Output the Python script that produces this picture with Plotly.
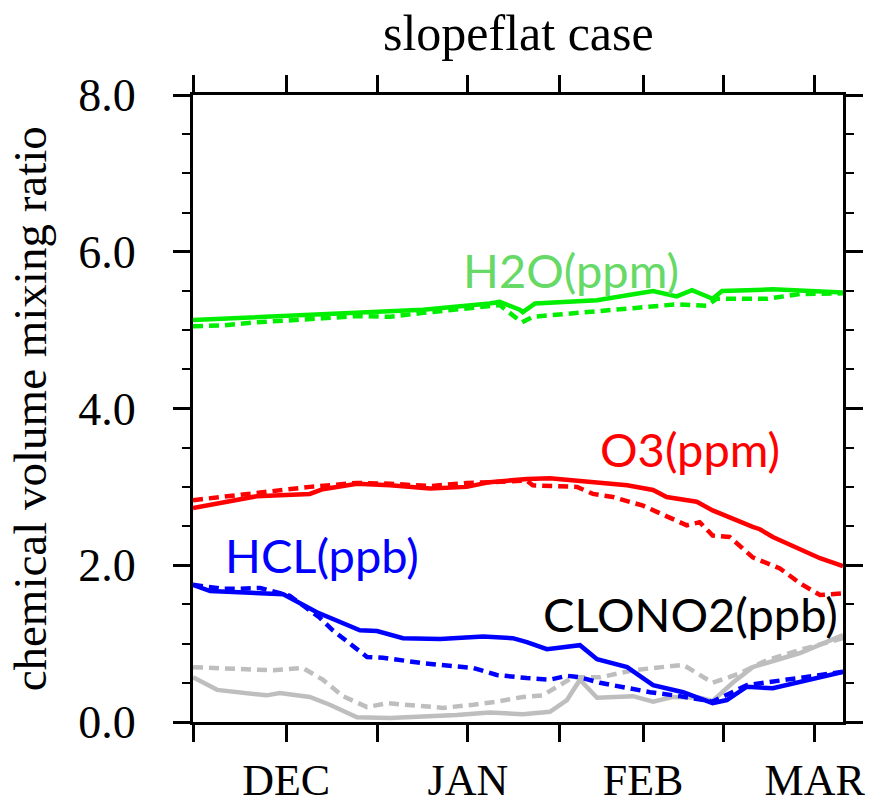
import plotly.graph_objects as go

# ---- data (x in days since mid-November) ----
x_range = [0, 110.2]
tick_vals = [0, 15.8, 31.2, 46.6, 62.2, 76.3, 90.0, 105.4]
tick_text = ["", "DEC", "", "JAN", "", "FEB", "", "MAR"]

h2o_sol_x = [0, 16.4, 27.8, 39.0, 50.3, 52.0, 55.4, 55.9, 58.0, 68.5, 78.0, 82.0, 84.6, 88.1, 89.7, 98.3, 110.2]
h2o_sol_y = [5.13, 5.18, 5.22, 5.26, 5.34, 5.36, 5.26, 5.23, 5.34, 5.38, 5.50, 5.43, 5.51, 5.40, 5.50, 5.52, 5.48]
h2o_dsh_x = [0, 5, 10.8, 16.4, 22, 27.8, 33.4, 39.0, 44.7, 50.3, 52.0, 55.4, 55.8, 57.6, 66.1, 74.6, 82.0, 87.1, 88.8, 97.3, 102.9, 110.2]
h2o_dsh_y = [5.05, 5.06, 5.10, 5.12, 5.15, 5.18, 5.17, 5.22, 5.26, 5.30, 5.32, 5.12, 5.10, 5.17, 5.22, 5.28, 5.33, 5.31, 5.40, 5.40, 5.46, 5.47]

o3_sol_x = [0, 10.8, 19.8, 22.0, 27.8, 33.4, 40.2, 46.4, 50.3, 56.6, 60.5, 73.6, 78.0, 80.3, 85.4, 88.1, 94.9, 96.1, 98.3, 106.3, 110.2]
o3_sol_y = [2.73, 2.88, 2.91, 2.97, 3.04, 3.02, 2.98, 3.00, 3.06, 3.10, 3.11, 3.02, 2.96, 2.87, 2.81, 2.70, 2.49, 2.46, 2.36, 2.09, 1.99]
o3_dsh_x = [0, 10.8, 19.8, 27.8, 33.4, 40.2, 46.4, 50.3, 56.6, 57.6, 65.1, 67.8, 71.2, 76.3, 83.7, 85.9, 88.1, 91.0, 94.9, 99.5, 102.9, 106.3, 110.2]
o3_dsh_y = [2.83, 2.93, 3.00, 3.05, 3.04, 3.01, 3.05, 3.06, 3.08, 3.02, 3.00, 2.91, 2.87, 2.76, 2.51, 2.55, 2.38, 2.36, 2.10, 1.96, 1.77, 1.62, 1.64]

hcl_sol_x = [0, 2.9, 15.3, 21.0, 28.3, 31.2, 35.6, 41.9, 49.2, 54.2, 56.6, 60.0, 65.6, 68.5, 73.6, 78.0, 83.1, 88.1, 90.5, 93.9, 98.3, 110.2]
hcl_sol_y = [1.75, 1.67, 1.63, 1.40, 1.17, 1.16, 1.07, 1.06, 1.09, 1.07, 1.02, 0.93, 0.98, 0.80, 0.70, 0.47, 0.38, 0.24, 0.28, 0.45, 0.43, 0.64]
hcl_dsh_x = [0, 5, 8, 11.4, 16.4, 21.5, 23.7, 27.1, 29.5, 32.2, 39.0, 47.5, 51.5, 56.6, 60.5, 63.4, 65.6, 69.0, 72.4, 77.5, 82.5, 88.1, 93.9, 110.2]
hcl_dsh_y = [1.75, 1.70, 1.70, 1.71, 1.61, 1.33, 1.17, 0.98, 0.83, 0.82, 0.75, 0.69, 0.60, 0.56, 0.54, 0.59, 0.57, 0.50, 0.45, 0.38, 0.33, 0.26, 0.47, 0.64]

clono2_sol_x = [0, 4.1, 12.5, 14.7, 19.8, 23.2, 27.8, 33.4, 44.7, 50.3, 55.9, 60.5, 63.4, 65.6, 68.5, 74.6, 78.0, 81.4, 85.9, 88.1, 91.5, 94.9, 102.9, 110.2]
clono2_sol_y = [0.57, 0.41, 0.34, 0.37, 0.32, 0.22, 0.06, 0.05, 0.09, 0.12, 0.10, 0.13, 0.28, 0.54, 0.31, 0.33, 0.26, 0.32, 0.31, 0.27, 0.50, 0.70, 0.88, 1.11]
clono2_dsh_x = [0, 5.1, 13.6, 18.6, 22.0, 25.4, 29.5, 32.9, 36.3, 42.4, 47.5, 51.5, 55.9, 59.3, 64.4, 69.0, 74.6, 79.2, 83.1, 88.1, 92.7, 97.3, 102.9, 110.2]
clono2_dsh_y = [0.70, 0.68, 0.66, 0.69, 0.54, 0.33, 0.19, 0.24, 0.22, 0.18, 0.22, 0.26, 0.32, 0.34, 0.57, 0.57, 0.66, 0.70, 0.73, 0.50, 0.62, 0.79, 0.92, 1.07]

series = [
    (h2o_sol_x, h2o_sol_y, "#00ee00", "solid"),
    (h2o_dsh_x, h2o_dsh_y, "#00ee00", "10px,6px"),
    (o3_sol_x, o3_sol_y, "#ff0000", "solid"),
    (o3_dsh_x, o3_dsh_y, "#ff0000", "10px,6px"),
    (clono2_sol_x, clono2_sol_y, "#bebebe", "solid"),
    (clono2_dsh_x, clono2_dsh_y, "#bebebe", "10px,6px"),
    (hcl_sol_x, hcl_sol_y, "#0000ff", "solid"),
    (hcl_dsh_x, hcl_dsh_y, "#0000ff", "10px,6px"),
]

labels = [
    ("H2O(ppm)", 64.1, 5.77, "#66d966"),
    ("O3(ppm)", 84.2, 3.48, "#ff0000"),
    ("HCL(ppb)", 21.9, 2.13, "#0000ff"),
    ("CLONO2(ppb)", 84.4, 1.38, "#000000"),
]

fig = go.Figure()
for xs, ys, col, dash in series:
    fig.add_trace(go.Scatter(x=xs, y=ys, mode="lines",
                             line=dict(color=col, width=4.5, dash=dash),
                             showlegend=False, hoverinfo="skip"))

serif = "Liberation Serif, Times New Roman, serif"
for txt, lx, ly, col in labels:
    fig.add_annotation(x=lx, y=ly, xref="x", yref="y", text=txt, showarrow=False,
                       xanchor="center", yanchor="middle",
                       font=dict(family="Lato, Open Sans, sans-serif", size=47, color=col))

fig.add_annotation(x=0.5, y=1.099, xref="paper", yref="paper", text="slopeflat case",
                   showarrow=False, xanchor="center", yanchor="middle",
                   font=dict(family=serif, size=50, color="black"))
fig.add_annotation(x=-0.251, y=0.5, xref="paper", yref="paper",
                   text="chemical volume mixing ratio", textangle=-90,
                   showarrow=False, xanchor="center", yanchor="middle",
                   font=dict(family=serif, size=47, color="black"))

fig.update_layout(
    width=873, height=807,
    margin=dict(l=193, r=30, t=95, b=85),
    paper_bgcolor="white", plot_bgcolor="white",
    xaxis=dict(range=x_range, tickvals=tick_vals, ticktext=tick_text, automargin=False,
               ticks="outside", ticklen=17, tickwidth=2.5, tickcolor="black",
               showline=True, linewidth=3, linecolor="black", mirror="allticks",
               showgrid=False, zeroline=False, ticklabelstandoff=0,
               tickfont=dict(family=serif, size=44, color="black")),
    yaxis=dict(range=[0, 8], tickvals=[0, 2, 4, 6, 8], automargin=False,
               ticktext=["0.0", "2.0", "4.0", "6.0", "8.0"],
               ticks="outside", ticklen=17, tickwidth=2.5, tickcolor="black",
               minor=dict(tickvals=[0.5, 1, 1.5, 2.5, 3, 3.5, 4.5, 5, 5.5, 6.5, 7, 7.5],
                          ticks="outside", ticklen=8, tickwidth=2, tickcolor="black"),
               showline=True, linewidth=3, linecolor="black", mirror="allticks",
               showgrid=False, zeroline=False, ticklabelstandoff=28,
               tickfont=dict(family=serif, size=46, color="black")),
)

fig.write_html("out.html")
